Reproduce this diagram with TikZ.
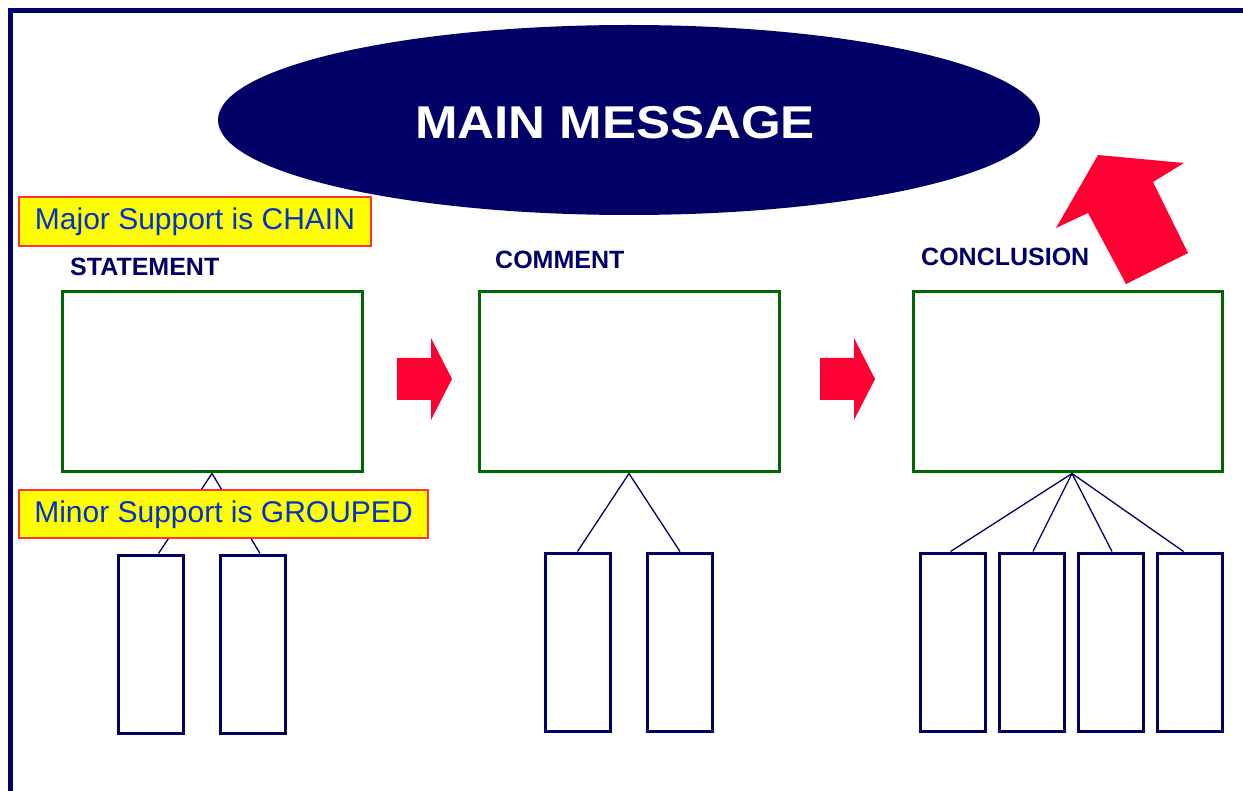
\documentclass[tikz,border=0pt]{standalone}
\usepackage{fontspec}
\setmainfont{Liberation Sans}
\usetikzlibrary{shapes.geometric}

\definecolor{navy}{RGB}{0,0,102}
\definecolor{boxgreen}{RGB}{0,102,0}
\definecolor{arrowred}{RGB}{255,0,51}
\definecolor{notered}{RGB}{255,51,51}
\definecolor{noteblue}{RGB}{0,51,204}
\definecolor{noteyellow}{RGB}{255,255,0}

\tikzset{
  frame/.style={draw=navy, line width=5pt},
  bigbox/.style={draw=boxgreen, line width=3pt, fill=white, inner sep=0pt,
    minimum height=180pt},
  smallbox/.style={draw=navy, line width=3pt, fill=white, inner sep=0pt,
    minimum width=65pt, minimum height=178pt},
  head/.style={text=navy, font=\bfseries\fontsize{25}{28}\selectfont, inner sep=0pt},
  notebox/.style={draw=notered, line width=1.5pt, fill=noteyellow, text=noteblue,
    font=\fontsize{30}{36}\selectfont, inner xsep=0pt, inner ysep=0pt,
    text height=22pt, text depth=6pt},
  link/.style={draw=navy, line width=1.3pt},
  fatarrow/.pic={
    \fill[arrowred] (0,-21) -- (34,-21) -- (34,-41) -- (55,0) -- (34,41)
      -- (34,21) -- (0,21) -- cycle;
  }
}

\begin{document}
\begin{tikzpicture}[x=1pt, y=-1pt]
\useasboundingbox (0,0) rectangle (1243,791);
\fill[white] (0,0) rectangle (1243,791);

% outer frame (top and left edges)
\draw[frame] (10.5,791) -- (10.5,10.5) -- (1243,10.5);

% main message ellipse
\node[ellipse, fill=navy, inner sep=0pt, minimum width=822pt, minimum height=190pt,
  label={[text=white, font=\bfseries\fontsize{46}{50}\selectfont, xshift=-14pt, yshift=-3pt]center:\scalebox{1.11}[1]{MAIN MESSAGE}}]
  (main) at (629,120) {};

% column headings
\node[head, anchor=base west] (hstmt) at (70,276) {STATEMENT};
\node[head, anchor=base west] (hcomm) at (495,269) {COMMENT};
\node[head, anchor=base west] (hconc) at (921,266) {CONCLUSION};

% major boxes
\node[bigbox, minimum width=300pt] (stmt) at (212,382) {};
\node[bigbox, minimum width=300pt] (comm) at (629,382) {};
\node[bigbox, minimum width=309pt] (conc) at (1067.5,382) {};

% minor boxes
\node[smallbox] (s1) at (150.5,644) {};
\node[smallbox] (s2) at (253,644) {};
\node[smallbox] (m1) at (577.5,642) {};
\node[smallbox] (m2) at (680,642) {};
\node[smallbox] (c1) at (952.5,642) {};
\node[smallbox] (c2) at (1031.5,642) {};
\node[smallbox] (c3) at (1110.5,642) {};
\node[smallbox] (c4) at (1189.5,642) {};

% groupings below each major box
\draw[link] (stmt.south) -- ([xshift=8pt]s1.north);
\draw[link] (stmt.south) -- ([xshift=7pt]s2.north);
\draw[link] (comm.south) -- (m1.north);
\draw[link] (comm.south) -- (m2.north);
\draw[link] ([xshift=4.5pt]conc.south) -- ([xshift=-2pt]c1.north);
\draw[link] ([xshift=4.5pt]conc.south) -- ([xshift=1.5pt]c2.north);
\draw[link] ([xshift=4.5pt]conc.south) -- ([xshift=1.5pt]c3.north);
\draw[link] ([xshift=4.5pt]conc.south) -- ([xshift=-6pt]c4.north);

% chain arrows
\pic at (397,379) {fatarrow};
\pic at (820,379) {fatarrow};

% arrow from conclusion up to the main message
\fill[arrowred] (1126,284) -- (1088,213) -- (1056,228) -- (1098,155)
  -- (1184,163) -- (1153,182) -- (1188,253) -- cycle;

% notes
\node[notebox, minimum width=352pt, minimum height=49pt] (major) at (195,221.5)
  {Major Support is CHAIN};
\node[notebox, minimum width=409pt, minimum height=48pt] (minor) at (223.5,514)
  {Minor Support is GROUPED};
\end{tikzpicture}
\end{document}
